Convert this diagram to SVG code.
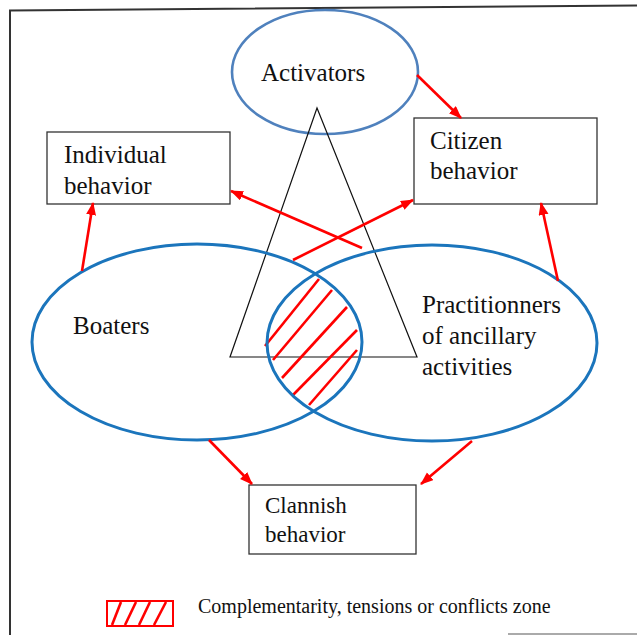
<svg xmlns="http://www.w3.org/2000/svg" width="637" height="635" viewBox="0 0 637 635">
<defs>
<marker id="ah" markerUnits="userSpaceOnUse" markerWidth="14" markerHeight="12" refX="12" refY="5" orient="auto">
<path d="M0,0 L13,5 L0,10 Z" fill="#ff0000"/>
</marker>
<style>
.t{font-family:"Liberation Serif","Times New Roman",serif;font-size:25px;fill:#111}
.box{fill:#fff;stroke:#333;stroke-width:1.3}
.ell{fill:none;stroke:#1b75bc;stroke-width:3}
.ar{stroke:#ff0000;stroke-width:2.6;fill:none}
.hat{stroke:#ff0000;stroke-width:2.6}
</style>
</defs>
<rect width="637" height="635" fill="#fff"/>
<path d="M10,635 V10.5 L637,5.5" fill="none" stroke="#333" stroke-width="2"/>
<line x1="508" y1="634" x2="637" y2="634" stroke="#aaa" stroke-width="2"/>

<g id="activators">
<ellipse cx="325" cy="72" rx="93" ry="62" fill="none" stroke="#4f81bd" stroke-width="2.6"/>
<text class="t" x="261" y="81">Activators</text>
</g>

<g id="triangle">
<polygon points="317,108 230,357 417,357" fill="none" stroke="#111" stroke-width="1.2"/>
</g>

<g id="individual">
<rect class="box" x="47" y="132" width="183" height="72"/>
<text class="t" x="64" y="163">Individual</text>
<text class="t" x="64" y="194">behavior</text>
</g>

<g id="citizen">
<rect class="box" x="414" y="118" width="183" height="86"/>
<text class="t" x="430" y="149">Citizen</text>
<text class="t" x="430" y="179">behavior</text>
</g>

<g id="hatch">
<line class="hat" x1="265" y1="346" x2="319" y2="279"/>
<line class="hat" x1="273" y1="360" x2="332" y2="290"/>
<line class="hat" x1="282" y1="378" x2="347" y2="307"/>
<line class="hat" x1="293" y1="395" x2="357" y2="330"/>
<line class="hat" x1="309" y1="405" x2="357" y2="350"/>
</g>

<g id="boaters">
<ellipse class="ell" cx="197" cy="342" rx="165" ry="98"/>
<text class="t" x="73" y="334">Boaters</text>
</g>

<g id="practitioners">
<ellipse class="ell" cx="432" cy="343" rx="165" ry="98"/>
<text class="t" x="422" y="313">Practitionners</text>
<text class="t" x="422" y="344">of ancillary</text>
<text class="t" x="422" y="375">activities</text>
</g>

<g id="clannish">
<rect class="box" x="249" y="485" width="167" height="69"/>
<text class="t" x="265" y="513" style="font-size:23px">Clannish</text>
<text class="t" x="265" y="542" style="font-size:23px">behavior</text>
</g>

<g id="connectors">
<line class="ar" x1="417" y1="75" x2="461" y2="118" marker-end="url(#ah)"/>
<line class="ar" x1="82" y1="271" x2="93" y2="203" marker-end="url(#ah)"/>
<line class="ar" x1="558" y1="281" x2="541" y2="203" marker-end="url(#ah)"/>
<line class="ar" x1="362" y1="248" x2="231" y2="191" marker-end="url(#ah)"/>
<line class="ar" x1="293" y1="260" x2="413" y2="200" marker-end="url(#ah)"/>
<line class="ar" x1="209" y1="440" x2="252" y2="484" marker-end="url(#ah)"/>
<line class="ar" x1="472" y1="441" x2="421" y2="484" marker-end="url(#ah)"/>
</g>

<g id="legend">
<rect x="107" y="601" width="66" height="25" fill="#fff" stroke="#ff0000" stroke-width="2"/>
<line class="hat" x1="112" y1="625" x2="121" y2="602"/>
<line class="hat" x1="125" y1="625" x2="136" y2="602"/>
<line class="hat" x1="139" y1="625" x2="150" y2="602"/>
<line class="hat" x1="154" y1="625" x2="166" y2="602"/>
<text class="t" x="198" y="613" style="font-size:20px">Complementarity, tensions or conflicts zone</text>
</g>
</svg>
